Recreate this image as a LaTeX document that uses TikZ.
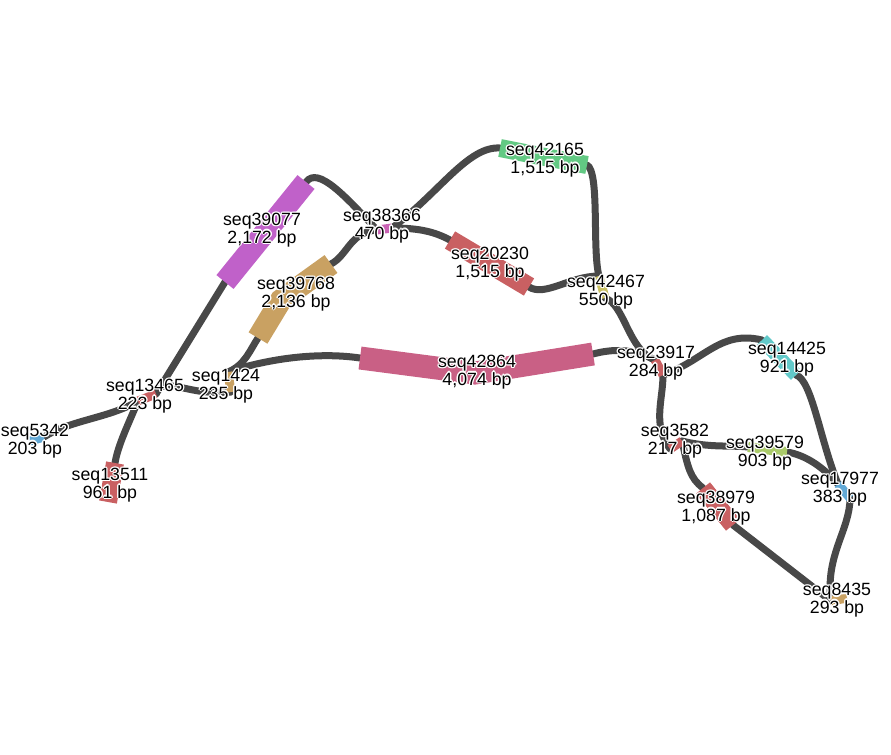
\documentclass[tikz,border=0pt]{standalone}
\usepackage{fontspec}
\setmainfont{Liberation Sans}
\usetikzlibrary{calc}
\definecolor{edgegrey}{HTML}{484848}
\definecolor{cmag}{HTML}{C061C9}
\definecolor{ctan}{HTML}{C9A162}
\definecolor{cpink}{HTML}{C96085}
\definecolor{cred}{HTML}{C96062}
\definecolor{cgreen}{HTML}{62C983}
\definecolor{ccyan}{HTML}{62C9C9}
\definecolor{clime}{HTML}{AACA6A}
\definecolor{ckhaki}{HTML}{C9C062}
\definecolor{cblue}{HTML}{62A9D6}
\definecolor{corchid}{HTML}{C962B4}
\tikzset{
  edge/.style={draw=edgegrey,line width=5.25pt,line cap=round},
  seg/.style={line width=#1,line cap=butt,line join=miter},
  lbl/.style={align=center,font=\fontsize{13.3}{13}\selectfont,inner sep=0pt},
}
% label with white halo
\newcommand{\seglabel}[3]{%
  \foreach \dx/\dy in {-1.3/0,1.3/0,0/-1.3,0/1.3,-.9/-.9,.9/.9,-.9/.9,.9/-.9}
    \node[lbl,white] at ($(#1)+(\dx,\dy)$) {#3};
  \node[lbl] (#2) at (#1) {#3};}

\begin{document}
\begin{tikzpicture}[x=0.75pt,y=-0.75pt]
  \useasboundingbox (0,0) rectangle (891,754);
  % segment ends
  \coordinate (a39077) at (225,282);  \coordinate (b39077) at (306,182);
  \coordinate (a39768) at (258,338);  \coordinate (m39768) at (281,300);
  \coordinate (b39768) at (331,264);
  \coordinate (a42864) at (360,358);  \coordinate (m42864) at (475,373);
  \coordinate (b42864) at (593,354);
  \coordinate (a20230) at (450,240);  \coordinate (b20230) at (529,287);
  \coordinate (a42165) at (500,148);  \coordinate (m42165) at (545,157);
  \coordinate (b42165) at (587,165);
  \coordinate (a14425) at (762,340);  \coordinate (b14425) at (796,375);
  \coordinate (a38979) at (703,488);  \coordinate (b38979) at (733,525);
  \coordinate (a39579) at (748,447);  \coordinate (b39579) at (787,452);
  \coordinate (a13511) at (115,463);  \coordinate (b13511) at (108,502);
  \coordinate (a38366) at (377,230);  \coordinate (b38366) at (392,228);
  \coordinate (a42467) at (599,276);  \coordinate (b42467) at (605,298);
  \coordinate (a23917) at (655,360);  \coordinate (b23917) at (663,375);
  \coordinate (a3582) at (670,449);   \coordinate (b3582) at (682,441);
  \coordinate (a17977) at (838,484);  \coordinate (b17977) at (850,498);
  \coordinate (a8435) at (831,601);   \coordinate (b8435) at (847,598);
  \coordinate (a13465) at (138,401);  \coordinate (b13465) at (156,394);
  \coordinate (a1424) at (228,372);   \coordinate (b1424) at (231,392);
  \coordinate (a5342) at (30,441);    \coordinate (b5342) at (44,437);

  % edges
  \draw[edge] (b39077) .. controls (318,166) and (345,196) .. (a38366);
  \draw[edge] (b38366) .. controls (440,192) and (468,146) .. (a42165);
  \draw[edge] (b38366) .. controls (420,228) and (435,232) .. (a20230);
  \draw[edge] (a38366) .. controls (350,232) and (348,255) .. (b39768);
  \draw[edge] (b42165) .. controls (600,172) and (592,250) .. (a42467);
  \draw[edge] (b20230) .. controls (545,297) and (570,276) .. (a42467);
  \draw[edge] (b42467) .. controls (625,305) and (628,350) .. (a23917);
  \draw[edge] (b42864) .. controls (612,349) and (632,348) .. (a23917);
  \draw[edge] (b23917) .. controls (705,360) and (720,330) .. (a14425);
  \draw[edge] (b23917) .. controls (663,400) and (652,425) .. (a3582);
  \draw[edge] (b3582) .. controls (710,448) and (730,445) .. (a39579);
  \draw[edge] (b3582) .. controls (688,468) and (690,478) .. (a38979);
  \draw[edge] (b39579) .. controls (805,455) and (822,466) .. (a17977);
  \draw[edge] (b14425) .. controls (812,380) and (820,440) .. (a17977);
  \draw[edge] (b17977) .. controls (850,530) and (825,555) .. (a8435);
  \draw[edge] (b38979) -- (a8435);
  \draw[edge] (a42864) .. controls (320,352) and (270,358) .. (a1424);
  \draw[edge] (a1424) .. controls (245,365) and (250,350) .. (a39768);
  \draw[edge] (b13465) .. controls (162,374) and (190,397) .. (b1424);
  \draw[edge] (a39077) -- (b13465);
  \draw[edge] (a13465) .. controls (110,418) and (70,420) .. (b5342);
  \draw[edge] (a13465) .. controls (128,425) and (118,445) .. (a13511);

  % segments
  \draw[seg=16.5pt,cmag] (a39077) -- (b39077);
  \draw[seg=16.5pt,ctan] (a39768) -- (m39768) -- (b39768);
  \draw[seg=17.25pt,cpink] (a42864) -- (m42864) -- (b42864);
  \draw[seg=15pt,cred] (a20230) -- (b20230);
  \draw[seg=13.5pt,cgreen] (a42165) -- (m42165) -- (b42165);
  \draw[seg=10.5pt,ccyan] (a14425) -- (b14425);
  \draw[seg=13.5pt,cred] (a38979) -- (b38979);
  \draw[seg=7.5pt,clime] (a39579) -- (b39579);
  \draw[seg=13.5pt,cred] (a13511) -- (b13511);
  \draw[seg=6.75pt,corchid] (a38366) -- (b38366);
  \draw[seg=6.75pt,ckhaki] (a42467) -- (b42467);
  \draw[seg=6.75pt,cred] (a23917) -- (b23917);
  \draw[seg=6.75pt,cred] (a3582) -- (b3582);
  \draw[seg=6.75pt,cblue] (a17977) -- (b17977);
  \draw[seg=6.75pt,ctan] (a8435) -- (b8435);
  \draw[seg=6.75pt,cred] (a13465) -- (b13465);
  \draw[seg=6.75pt,ctan] (a1424) -- (b1424);
  \draw[seg=6.75pt,cblue] (a5342) -- (b5342);

  % labels
  \seglabel{262,230}{l39077}{seq39077\\2,172 bp}
  \seglabel{382,226}{l38366}{seq38366\\470 bp}
  \seglabel{296,294}{l39768}{seq39768\\2,136 bp}
  \seglabel{545,160}{l42165}{seq42165\\1,515 bp}
  \seglabel{490,264}{l20230}{seq20230\\1,515 bp}
  \seglabel{606,292}{l42467}{seq42467\\550 bp}
  \seglabel{477,372}{l42864}{seq42864\\4,074 bp}
  \seglabel{656,363}{l23917}{seq23917\\284 bp}
  \seglabel{787,359}{l14425}{seq14425\\921 bp}
  \seglabel{226,386}{l1424}{seq1424\\235 bp}
  \seglabel{145,396}{l13465}{seq13465\\223 bp}
  \seglabel{35,441}{l5342}{seq5342\\203 bp}
  \seglabel{110,485}{l13511}{seq13511\\961 bp}
  \seglabel{675,441}{l3582}{seq3582\\217 bp}
  \seglabel{765,453}{l39579}{seq39579\\903 bp}
  \seglabel{840,489}{l17977}{seq17977\\383 bp}
  \seglabel{716,508}{l38979}{seq38979\\1,087 bp}
  \seglabel{837,600}{l8435}{seq8435\\293 bp}
\end{tikzpicture}
\end{document}
